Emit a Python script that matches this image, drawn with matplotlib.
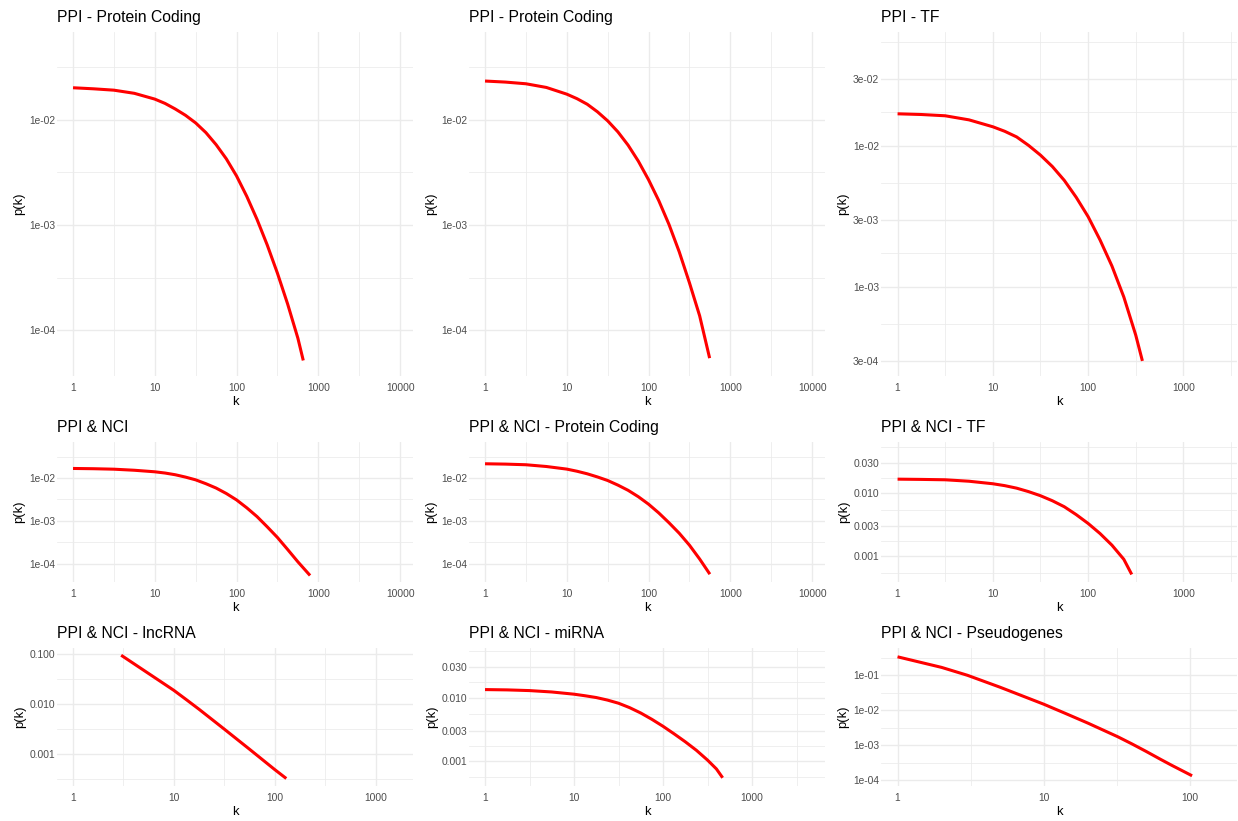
import matplotlib
matplotlib.use("Agg")
import matplotlib.pyplot as plt
import numpy as np

plt.rcParams['font.family'] = ['Liberation Sans', 'DejaVu Sans']

# degree distributions, as log10(k) and log10(p(k))
ppi_pc_logk = [0, 0.25, 0.5, 0.75, 1.0, 1.125, 1.25, 1.375, 1.5, 1.625, 1.75, 1.875,
               2.0, 2.125, 2.25, 2.375, 2.5, 2.625, 2.75, 2.816]
ppi_pc_logp = [-1.693, -1.703, -1.716, -1.746, -1.801, -1.842, -1.895, -1.955, -2.028,
               -2.12, -2.235, -2.37, -2.533, -2.727, -2.946, -3.19, -3.459, -3.753,
               -4.078, -4.29]

ppi_pc2_logk = [0, 0.25, 0.5, 0.75, 1.0, 1.125, 1.25, 1.375, 1.5, 1.625, 1.75, 1.875,
                2.0, 2.125, 2.25, 2.375, 2.5, 2.625, 2.747]
ppi_pc2_logp = [-1.629, -1.639, -1.655, -1.69, -1.754, -1.797, -1.85, -1.922, -2.008,
                -2.113, -2.24, -2.392, -2.569, -2.768, -2.995, -3.255, -3.55, -3.865,
                -4.268]

ppi_tf_logk = [0, 0.25, 0.5, 0.75, 1.0, 1.125, 1.25, 1.375, 1.5, 1.625, 1.75, 1.875,
               2.0, 2.125, 2.25, 2.375, 2.5, 2.57]
ppi_tf_logp = [-1.771, -1.776, -1.785, -1.814, -1.863, -1.895, -1.935, -1.995, -2.064,
               -2.145, -2.243, -2.363, -2.5, -2.665, -2.85, -3.07, -3.34, -3.523]

nci_logk = [0, 0.25, 0.5, 0.75, 1.0, 1.125, 1.25, 1.375, 1.5, 1.625, 1.75, 1.875,
            2.0, 2.125, 2.25, 2.375, 2.5, 2.625, 2.75, 2.899]
nci_logp = [-1.773, -1.779, -1.79, -1.815, -1.851, -1.88, -1.92, -1.975, -2.04, -2.13,
            -2.232, -2.36, -2.51, -2.695, -2.9, -3.14, -3.39, -3.672, -3.96, -4.28]

nci_pc_logk = [0, 0.25, 0.5, 0.75, 1.0, 1.125, 1.25, 1.375, 1.5, 1.625, 1.75, 1.875,
               2.0, 2.125, 2.25, 2.375, 2.5, 2.625, 2.75]
nci_pc_logp = [-1.663, -1.671, -1.686, -1.727, -1.788, -1.838, -1.898, -1.972, -2.055,
               -2.163, -2.285, -2.435, -2.61, -2.815, -3.045, -3.29, -3.57, -3.895, -4.25]

nci_tf_logk = [0, 0.25, 0.5, 0.75, 1.0, 1.125, 1.25, 1.375, 1.5, 1.625, 1.75, 1.875,
               2.0, 2.125, 2.25, 2.375, 2.458]
nci_tf_logp = [-1.777, -1.781, -1.787, -1.81, -1.85, -1.88, -1.92, -1.975, -2.04, -2.12,
               -2.215, -2.34, -2.48, -2.64, -2.825, -3.05, -3.29]

lnc_logk = [0.477, 0.699, 0.85, 1.0, 1.125, 1.25, 1.5, 1.75, 2.0, 2.114]
lnc_logp = [-1.033, -1.33, -1.532, -1.733, -1.92, -2.11, -2.505, -2.905, -3.31, -3.487]

mirna_logk = [0, 0.25, 0.5, 0.75, 1.0, 1.125, 1.25, 1.375, 1.5, 1.625, 1.75, 1.875,
              2.0, 2.125, 2.25, 2.375, 2.5, 2.6, 2.67]
mirna_logp = [-1.874, -1.879, -1.89, -1.912, -1.947, -1.972, -2.0, -2.04, -2.09, -2.16,
              -2.245, -2.345, -2.455, -2.575, -2.70, -2.835, -2.99, -3.13, -3.27]

pseudo_logk = [0, 0.301, 0.477, 0.699, 1.0, 1.146, 1.301, 1.505, 1.602, 1.699, 1.799,
               1.875, 2.013]
pseudo_logp = [-0.472, -0.775, -1.0, -1.34, -1.83, -2.09, -2.37, -2.76, -2.965, -3.18,
               -3.41, -3.58, -3.877]

titles = ["PPI - Protein Coding", "PPI - Protein Coding", "PPI - TF",
          "PPI & NCI", "PPI & NCI - Protein Coding", "PPI & NCI - TF",
          "PPI & NCI - lncRNA", "PPI & NCI - miRNA", "PPI & NCI - Pseudogenes"]

# axis breaks and labels
x_breaks_4 = [1, 10, 100, 1000, 10000]
x_breaks_3 = [1, 10, 100, 1000]
x_breaks_2 = [1, 10, 100]
y_sci = [1e-5, 1e-4, 1e-3, 1e-2, 1e-1, 1]
y_sci_lab = ["1e-05", "1e-04", "1e-03", "1e-02", "1e-01", "1e+00"]
y_sci3 = [1e-4, 3e-4, 1e-3, 3e-3, 1e-2, 3e-2, 1e-1]
y_sci3_lab = ["1e-04", "3e-04", "1e-03", "3e-03", "1e-02", "3e-02", "1e-01"]
y_dec3 = [1e-4, 3e-4, 1e-3, 3e-3, 1e-2, 3e-2, 1e-1]
y_dec3_lab = ["0.000", "0.000", "0.001", "0.003", "0.010", "0.030", "0.100"]
y_dec = [1e-4, 1e-3, 1e-2, 1e-1, 1]
y_dec_lab = ["0.000", "0.001", "0.010", "0.100", "1.000"]

# (log k, log p, x breaks, y breaks, y labels, log10 xlim, log10 ylim)
panels = [
    (ppi_pc_logk, ppi_pc_logp, x_breaks_4, y_sci, y_sci_lab, (-0.196, 4.158), (-4.438, -1.162)),
    (ppi_pc2_logk, ppi_pc2_logp, x_breaks_4, y_sci, y_sci_lab, (-0.196, 4.158), (-4.438, -1.162)),
    (ppi_tf_logk, ppi_tf_logp, x_breaks_3, y_sci3, y_sci3_lab, (-0.174, 3.563), (-3.63, -1.191)),
    (nci_logk, nci_logp, x_breaks_4, y_sci, y_sci_lab, (-0.196, 4.158), (-4.433, -1.153)),
    (nci_pc_logk, nci_pc_logp, x_breaks_4, y_sci, y_sci_lab, (-0.196, 4.158), (-4.433, -1.153)),
    (nci_tf_logk, nci_tf_logp, x_breaks_3, y_dec3, y_dec3_lab, (-0.174, 3.563), (-3.41, -1.187)),
    (lnc_logk, lnc_logp, x_breaks_3, y_dec, y_dec_lab, (-0.159, 3.37), (-3.636, -0.889)),
    (mirna_logk, mirna_logp, x_breaks_3, y_dec3, y_dec3_lab, (-0.18, 3.82), (-3.40, -1.216)),
    (pseudo_logk, pseudo_logp, x_breaks_2, y_sci, y_sci_lab, (-0.113, 2.32), (-4.17, -0.22)),
]

W, H = 1238, 821
cols_px = [(57, 413), (469, 825), (881, 1237)]
rows_px = [(32, 376), (442, 582), (648, 786)]

grid_col = "#EBEBEB"
tick_col = "#4D4D4D"


def mids(br):
    # ggplot-style minor breaks: halfway between majors on the log scale
    br = np.log10(br)
    ext = np.concatenate([[2 * br[0] - br[1]], br, [2 * br[-1] - br[-2]]])
    return 10 ** ((ext[:-1] + ext[1:]) / 2)


fig = plt.figure(figsize=(W / 100, H / 100), dpi=100)

for i, (lk, lp, xb, yb, ylab, xl, yl) in enumerate(panels):
    r, c = divmod(i, 3)
    x0, x1 = cols_px[c]
    y0, y1 = rows_px[r]
    ax = fig.add_axes([x0 / W, 1 - y1 / H, (x1 - x0) / W, (y1 - y0) / H])
    ax.set_xscale("log")
    ax.set_yscale("log")

    ax.set_xticks(xb)
    ax.set_xticklabels([str(v) for v in xb])
    ax.set_xticks(mids(xb), minor=True)
    ax.set_yticks(yb)
    ax.set_yticklabels(ylab)
    ax.set_yticks(mids(yb), minor=True)
    ax.xaxis.set_minor_formatter(matplotlib.ticker.NullFormatter())
    ax.yaxis.set_minor_formatter(matplotlib.ticker.NullFormatter())
    ax.set_xlim(10 ** xl[0], 10 ** xl[1])
    ax.set_ylim(10 ** yl[0], 10 ** yl[1])

    ax.grid(True, which="major", color=grid_col, linewidth=1.0)
    ax.grid(True, which="minor", color=grid_col, linewidth=0.55)
    ax.set_axisbelow(True)
    for s in ax.spines.values():
        s.set_visible(False)
    ax.tick_params(which="both", length=0)
    ax.tick_params(axis="x", pad=5, labelsize=7.4, labelcolor=tick_col)
    ax.tick_params(axis="y", pad=1.5, labelsize=7.4, labelcolor=tick_col)

    ax.plot(np.power(10.0, lk), np.power(10.0, lp), color="#FF0000", linewidth=2.2,
            solid_capstyle="butt", solid_joinstyle="round")

    ax.set_title(titles[i], loc="left", fontsize=11.3, pad=7)
    ax.set_xlabel("k", fontsize=9.4, labelpad=2)
    ax.set_ylabel("p(k)", fontsize=9.4, labelpad=2.5)

fig.savefig("out.png", dpi=100)
